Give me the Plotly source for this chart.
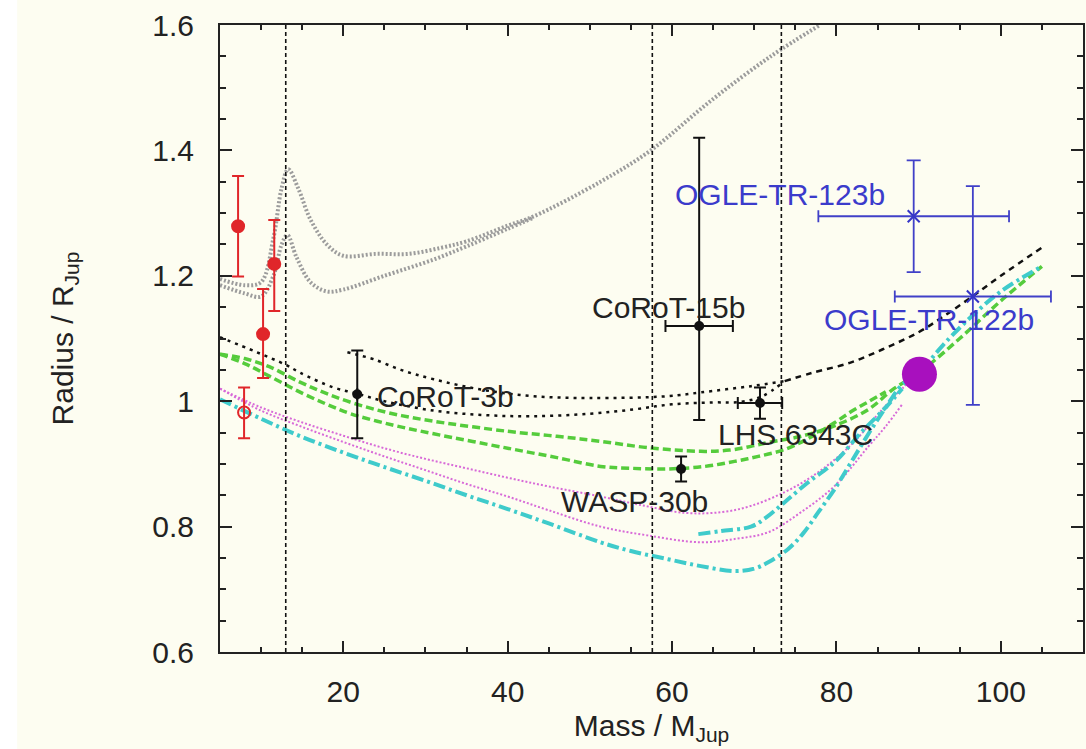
import plotly.graph_objects as go

# ---------------- data ----------------
# model curves (mass in M_Jup, radius in R_Jup)
gray_a_m = [5, 8, 10, 11.5, 12.5, 13.3, 14.5, 16, 18, 20, 24, 28, 32, 35, 40, 43.2, 51.3, 57.4, 64.8, 72, 78]
gray_a_r = [1.195, 1.185, 1.19, 1.26, 1.34, 1.37, 1.34, 1.29, 1.25, 1.232, 1.235, 1.235, 1.245, 1.255, 1.28, 1.295, 1.35, 1.40, 1.48, 1.55, 1.60]
gray_b_m = [5, 8, 10, 11.5, 12.5, 13.2, 14.3, 16, 18, 20, 25, 31, 35, 40, 43.2]
gray_b_r = [1.185, 1.172, 1.167, 1.20, 1.25, 1.265, 1.23, 1.19, 1.175, 1.178, 1.20, 1.226, 1.247, 1.275, 1.293]

black_lo_m = [5, 9.5, 13, 14.8, 18.8, 21.7, 25, 31, 37, 43, 50, 55.4, 60, 65, 68.4, 71, 73.5]
black_lo_r = [1.102, 1.078, 1.058, 1.045, 1.022, 1.012, 1.0, 0.985, 0.978, 0.976, 0.98, 0.987, 0.995, 0.998, 0.999, 1.008, 1.03]
black_hi_m = [20.5, 21.7, 23.7, 27, 31, 37, 43.2, 50, 59.5, 63.5, 69.6, 73.7]
black_hi_r = [1.078, 1.074, 1.067, 1.05, 1.035, 1.018, 1.008, 1.005, 1.008, 1.014, 1.024, 1.032]
black_rise_m = [73.7, 77, 81.8, 86, 90, 93, 96.1, 100, 105]
black_rise_r = [1.032, 1.045, 1.062, 1.085, 1.11, 1.135, 1.163, 1.2, 1.245]

green_hi_m = [5, 8, 11, 14.8, 18, 21.7, 26, 31, 40, 46, 51.3, 57, 63.5, 67, 69.6, 72, 75.7, 80, 83.9, 87, 90, 95, 100, 105]
green_hi_r = [1.075, 1.068, 1.055, 1.03, 1.012, 0.995, 0.98, 0.968, 0.952, 0.944, 0.936, 0.926, 0.92, 0.922, 0.928, 0.935, 0.944, 0.962, 0.987, 1.02, 1.045, 1.1, 1.16, 1.215]
green_lo_m = [5, 8, 11, 14.8, 18, 20.9, 26, 31, 40, 46, 51.3, 55, 59.5, 64, 67.6, 70.5, 73.7, 76.5, 79.8, 82, 84, 86]
green_lo_r = [1.075, 1.06, 1.04, 1.014, 0.995, 0.98, 0.962, 0.948, 0.925, 0.91, 0.896, 0.893, 0.892, 0.896, 0.904, 0.912, 0.923, 0.94, 0.966, 0.985, 1.0, 1.015]

mag_hi_m = [5, 10, 14.8, 20, 25, 30, 35, 40, 45, 51.3, 56, 61.5, 66, 69.6, 73.7, 76.8, 79.8, 82.5, 85.1, 88, 90]
mag_hi_r = [1.02, 0.99, 0.967, 0.945, 0.925, 0.908, 0.893, 0.878, 0.864, 0.848, 0.835, 0.822, 0.823, 0.833, 0.855, 0.878, 0.907, 0.94, 0.98, 1.02, 1.045]
mag_lo_m = [5, 10, 14.8, 20, 25, 30, 35, 40, 45, 51.3, 57, 63.5, 68, 71.7, 75.7, 79.8, 83.9, 86, 88]
mag_lo_r = [1.02, 0.985, 0.96, 0.935, 0.912, 0.89, 0.868, 0.848, 0.826, 0.80, 0.786, 0.775, 0.781, 0.791, 0.823, 0.865, 0.928, 0.96, 0.995]

cyan_lo_m = [5, 10, 14.8, 20, 25, 30, 35, 40, 45, 51.3, 55, 59.5, 63.5, 67.6, 70, 71.7, 74.1, 76, 77.8, 79.8, 81.8, 84, 86, 87.9, 90, 93, 96.1, 100, 105]
cyan_lo_r = [1.003, 0.972, 0.944, 0.918, 0.895, 0.873, 0.85, 0.828, 0.805, 0.775, 0.761, 0.748, 0.737, 0.729, 0.733, 0.743, 0.764, 0.79, 0.823, 0.86, 0.903, 0.95, 0.99, 1.025, 1.045, 1.09, 1.131, 1.175, 1.215]
cyan_hi_m = [63.2, 66, 69.6, 71.5, 73.7, 76.5, 79.8, 83, 86, 88]
cyan_hi_r = [0.788, 0.793, 0.80, 0.815, 0.839, 0.87, 0.903, 0.95, 0.99, 1.02]

# vertical reference masses
vline_masses = [13, 57.6, 73.3]

# red objects
red_m = [7.2, 11.6, 10.24, 7.93]
red_r = [1.279, 1.219, 1.107, 0.982]
red_err_up = [0.08, 0.07, 0.072, 0.04]
red_err_dn = [0.08, 0.075, 0.07, 0.041]
red_symbols = ["circle", "circle", "circle", "circle-open"]

# black objects
blk_names = ["CoRoT-3b", "CoRoT-15b", "LHS 6343C", "WASP-30b"]
blk_m = [21.7, 63.3, 70.7, 61.1]
blk_r = [1.011, 1.12, 0.997, 0.892]
blk_mx_err = [0, 4.1, 2.7, 0]
blk_r_up = [0.07, 0.30, 0.025, 0.02]
blk_r_dn = [0.07, 0.15, 0.025, 0.02]
blk_lab_x = [23.9, 50.0, 65.3, 64.6]
blk_lab_y = [1.008, 1.15, 0.947, 0.84]
blk_lab_anchor = ["left", "left", "left", "right"]

# blue objects
blue_names = ["OGLE-TR-123b", "OGLE-TR-122b"]
blue_m = [89.4, 96.6]
blue_r = [1.295, 1.167]
blue_mx_err = [11.6, 9.5]
blue_r_up = [0.089, 0.176]
blue_r_dn = [0.089, 0.173]
blue_lab_x = [60.1, 78.3]
blue_lab_y = [1.33, 1.131]

# big magenta object
big_m = [90.1]
big_r = [1.043]

x_ticks = [20, 40, 60, 80, 100]
y_ticks = [0.6, 0.8, 1.0, 1.2, 1.4, 1.6]
y_tick_text = ["0.6", "0.8", "1", "1.2", "1.4", "1.6"]

# ---------------- figure ----------------
FONT = "Liberation Sans, Arial, sans-serif"
BG = "#FDFDF1"
fig = go.Figure()

def curve(m, r, color, width, dash):
    fig.add_trace(go.Scatter(x=m, y=r, mode="lines", line=dict(color=color, width=width, dash=dash),
                             line_shape="spline", hoverinfo="skip", showlegend=False))

curve(gray_a_m, gray_a_r, "#9C9C9C", 4, "2px,2px")
curve(gray_b_m, gray_b_r, "#9C9C9C", 4, "2px,2px")
curve(black_lo_m, black_lo_r, "#111111", 2.5, "3px,5px")
curve(black_hi_m, black_hi_r, "#111111", 2.5, "3px,5px")
curve(black_rise_m, black_rise_r, "#111111", 2.5, "6px,5px")
curve(green_hi_m, green_hi_r, "#55CC3C", 3.5, "8px,4px")
curve(green_lo_m, green_lo_r, "#55CC3C", 3.5, "8px,4px")
curve(mag_hi_m, mag_hi_r, "#D86AD8", 2, "2px,2px")
curve(mag_lo_m, mag_lo_r, "#D86AD8", 2, "2px,2px")
curve(cyan_lo_m, cyan_lo_r, "#3FCBCB", 4, "12px,4px,3px,4px")
curve(cyan_hi_m, cyan_hi_r, "#3FCBCB", 4, "12px,4px,3px,4px")

for xm in vline_masses:
    fig.add_shape(type="line", x0=xm, x1=xm, y0=0, y1=1, xref="x", yref="paper",
                  line=dict(color="#111111", width=1.6, dash="4px,3px"), layer="above")

# red objects
fig.add_trace(go.Scatter(
    x=red_m, y=red_r, mode="markers",
    marker=dict(symbol=red_symbols, size=12, color="#E0262A", line=dict(color="#E0262A", width=2)),
    error_y=dict(type="data", symmetric=False, array=red_err_up, arrayminus=red_err_dn,
                 color="#E0262A", thickness=2, width=6),
    showlegend=False, hoverinfo="skip"))

# black objects
fig.add_trace(go.Scatter(
    x=blk_m, y=blk_r, mode="markers",
    marker=dict(symbol="circle", size=10, color="#111111"),
    error_y=dict(type="data", symmetric=False, array=blk_r_up, arrayminus=blk_r_dn,
                 color="#111111", thickness=2, width=6),
    error_x=dict(type="data", array=blk_mx_err, color="#111111", thickness=2, width=6),
    showlegend=False, hoverinfo="skip"))

# blue objects
fig.add_trace(go.Scatter(
    x=blue_m, y=blue_r, mode="markers",
    marker=dict(symbol="x-thin", size=12, color="#3535C8", line=dict(color="#3535C8", width=2)),
    error_y=dict(type="data", symmetric=False, array=blue_r_up, arrayminus=blue_r_dn,
                 color="#4040C8", thickness=1.8, width=7),
    error_x=dict(type="data", array=blue_mx_err, color="#4040C8", thickness=1.8, width=6),
    showlegend=False, hoverinfo="skip"))

fig.add_trace(go.Scatter(
    x=big_m, y=big_r, mode="markers",
    marker=dict(symbol="circle", size=35, color="#A810BE"),
    showlegend=False, hoverinfo="skip"))

for name, x, y, anc in zip(blk_names, blk_lab_x, blk_lab_y, blk_lab_anchor):
    fig.add_annotation(x=x, y=y, text=name, showarrow=False, xanchor=anc, yanchor="middle",
                       font=dict(family=FONT, size=30, color="#222222"))
for name, x, y in zip(blue_names, blue_lab_x, blue_lab_y):
    fig.add_annotation(x=x, y=y, text=name, showarrow=False, xanchor="left", yanchor="middle",
                       font=dict(family=FONT, size=30, color="#3B3BCB"))

axis_common = dict(showgrid=False, zeroline=False, showline=True, linecolor="#222222", linewidth=2,
                   mirror="ticks", ticks="inside", tickcolor="#222222", tickwidth=2,
                   tickfont=dict(family=FONT, size=30, color="#222222"))

fig.update_xaxes(range=[5, 110], tickvals=x_ticks, ticklen=11, ticklabelstandoff=12,
                 minor=dict(dtick=5, tick0=0, ticks="inside", ticklen=5, tickwidth=2, tickcolor="#222222"),
                 title=dict(text="Mass / M<sub>Jup</sub>", font=dict(family=FONT, size=30, color="#222222"),
                            standoff=8),
                 **axis_common)
fig.update_yaxes(range=[0.6, 1.6], tickvals=y_ticks, ticktext=y_tick_text, ticklen=12, ticklabelstandoff=18,
                 minor=dict(dtick=0.05, tick0=0, ticks="inside", ticklen=6, tickwidth=2, tickcolor="#222222"),
                 title=dict(text="Radius / R<sub>Jup</sub>", font=dict(family=FONT, size=30, color="#222222"),
                            standoff=70),
                 **axis_common)

fig.add_shape(type="rect", xref="paper", yref="paper", x0=-0.26, x1=-0.235, y0=-0.2, y1=1.1,
              fillcolor="#FFFFFF", line=dict(width=0), layer="below")

fig.update_layout(width=1086, height=749, margin=dict(l=220, r=3, t=25, b=97, autoexpand=False),
                  paper_bgcolor=BG, plot_bgcolor=BG, showlegend=False)

fig.write_html("out.html")
